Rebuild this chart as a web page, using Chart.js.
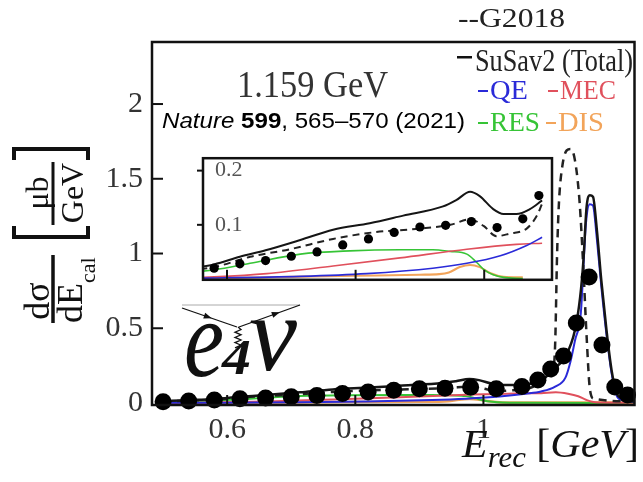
<!DOCTYPE html>
<html>
<head>
<meta charset="utf-8">
<script src="https://cdn.jsdelivr.net/npm/chart.js@4.4.1/dist/chart.umd.min.js"></script>
<style>
  html, body { margin: 0; padding: 0; background: #fff; }
  #wrap { position: relative; width: 643px; height: 482px; }
  #main { position: absolute; left: 0; top: 0; }
  #inset { position: absolute; left: 195px; top: 133px; }
</style>
</head>
<body>
<div id="wrap">
  <canvas id="main" width="643" height="482"></canvas>
  <canvas id="inset" width="365" height="172"></canvas>
</div>
<script>
// measured cross section (black dots), E_rec in GeV
const dataE = [0.5, 0.54, 0.58, 0.62, 0.66, 0.70, 0.74, 0.78, 0.82, 0.86, 0.90, 0.94, 0.98, 1.02, 1.06,
  1.085, 1.105, 1.125, 1.145, 1.165, 1.185, 1.205, 1.225];
const dataXsec = [0.008, 0.014, 0.020, 0.028, 0.034, 0.042, 0.050, 0.063, 0.074, 0.086, 0.096, 0.099, 0.106, 0.095, 0.111,
  0.154, 0.227, 0.314, 0.535, 0.843, 0.388, 0.107, 0.054];

// SuSav2 total (solid black)
const susavE = [0.5, 0.54, 0.58, 0.62, 0.66, 0.714, 0.765, 0.822, 0.874, 0.936, 0.957, 0.978, 0.993, 1.014, 1.03, 1.05,
  1.071, 1.09, 1.107, 1.128, 1.143, 1.151, 1.156, 1.161, 1.166, 1.171, 1.177, 1.184, 1.192, 1.2, 1.208, 1.216, 1.236];
const susavTotal = [0.012, 0.019, 0.027, 0.041, 0.053, 0.072, 0.091, 0.103, 0.117, 0.134, 0.146, 0.161, 0.153, 0.129, 0.12, 0.12,
  0.129, 0.145, 0.22, 0.31, 0.49, 0.71, 0.95, 1.31, 1.39, 1.38, 1.16, 0.82, 0.49, 0.22, 0.065, 0.03, 0.01];

// G2018 (dashed black)
const g2018E = [0.5, 0.54, 0.58, 0.636, 0.698, 0.765, 0.827, 0.9, 0.947, 0.978, 0.999, 1.019, 1.04, 1.066, 1.082, 1.09,
  1.1, 1.108, 1.112, 1.115, 1.118, 1.123, 1.13, 1.136, 1.143, 1.15, 1.156, 1.161, 1.166, 1.172, 1.236];
const g2018 = [0.01, 0.016, 0.022, 0.041, 0.055, 0.074, 0.086, 0.093, 0.1, 0.11, 0.098, 0.079, 0.084, 0.093, 0.117, 0.139,
  0.16, 0.2, 0.4, 1.0, 1.35, 1.58, 1.69, 1.70, 1.62, 1.35, 0.9, 0.45, 0.1, 0.03, 0.01];

// SuSav2 components
const qeE = [0.5, 0.58, 0.714, 0.817, 0.92, 0.973, 1.025, 1.066, 1.09, 1.112, 1.128, 1.136, 1.143, 1.152, 1.16, 1.166,
  1.171, 1.177, 1.184, 1.192, 1.2, 1.208, 1.216, 1.236];
const qe = [0.001, 0.002, 0.005, 0.01, 0.02, 0.029, 0.043, 0.062, 0.077, 0.11, 0.17, 0.28, 0.42, 0.6, 1.2, 1.33,
  1.32, 1.1, 0.78, 0.46, 0.2, 0.05, 0.02, 0.005];
const mecE = [0.5, 0.58, 0.662, 0.765, 0.869, 0.973, 1.05, 1.09, 1.113, 1.132, 1.148, 1.16, 1.168, 1.18, 1.236];
const mec = [0.001, 0.004, 0.01, 0.024, 0.039, 0.055, 0.064, 0.066, 0.072, 0.062, 0.045, 0.022, 0.01, 0.003, 0.001];
const resE = [0.5, 0.54, 0.58, 0.636, 0.714, 0.791, 0.869, 0.92, 0.947, 0.973, 0.988, 1.0, 1.014, 1.03, 1.06, 1.236];
const res = [0.008, 0.012, 0.017, 0.029, 0.046, 0.052, 0.054, 0.054, 0.051, 0.046, 0.031, 0.017, 0.008, 0.003, 0.001, 0.0];
const disE = [0.5, 0.6, 0.7, 0.8, 0.9, 0.93, 0.945, 0.962, 0.978, 0.993, 1.009, 1.03, 1.06, 1.236];
const dis = [0.001, 0.002, 0.004, 0.006, 0.008, 0.009, 0.012, 0.022, 0.026, 0.022, 0.011, 0.004, 0.003, 0.003];

// ticks
const xTicks = [0.6, 0.8, 1];
const yTicks = [0, 0.5, 1, 1.5, 2];
const insetYTicks = [0.1, 0.2];
const insetLastE = 1.09; // the inset curves stop here

const colors = { qe: '#2a2ad8', mec: '#e0505c', res: '#36c436', dis: '#f2a45a' };
const serif = '"Liberation Serif", "Times New Roman", serif';
const sans = '"Liberation Sans", Arial, sans-serif';

function pts(xs, ys, maxX) {
  return xs.map((x, i) => ({ x: x, y: ys[i] })).filter(p => maxX === undefined || p.x <= maxX);
}

// draw a row of text runs, squeezed/stretched to a given width
function drawRuns(ctx, runs, x, y, width, color) {
  ctx.save();
  let total = 0;
  runs.forEach(r => { ctx.font = r.font; r.w = ctx.measureText(r.t).width; total += r.w; });
  ctx.translate(x, y);
  ctx.scale(width / total, 1);
  ctx.fillStyle = color || '#111';
  ctx.textAlign = 'left';
  ctx.textBaseline = 'alphabetic';
  let cx = 0;
  runs.forEach(r => { ctx.font = r.font; ctx.fillText(r.t, cx, r.dy || 0); cx += r.w; });
  ctx.restore();
}

function seg(ctx, x1, y1, x2, y2) {
  ctx.beginPath(); ctx.moveTo(x1, y1); ctx.lineTo(x2, y2); ctx.stroke();
}

function arrowHead(ctx, x, y, ang) {
  ctx.save();
  ctx.translate(x, y); ctx.rotate(ang);
  ctx.beginPath(); ctx.moveTo(4, 0); ctx.lineTo(-4, -3); ctx.lineTo(-4, 3); ctx.closePath(); ctx.fill();
  ctx.restore();
}

function drawYTitle(ctx) {
  ctx.save();
  ctx.translate(53, 289);
  ctx.rotate(-Math.PI / 2);
  ctx.fillStyle = '#111'; ctx.strokeStyle = '#111';
  ctx.lineWidth = 3.5;
  seg(ctx, -34, 0, 34, 0);
  ctx.textBaseline = 'alphabetic';
  ctx.textAlign = 'center';
  ctx.font = '36px ' + serif;
  ctx.fillText('dσ', -12, -4);
  ctx.textAlign = 'left';
  ctx.font = '36px ' + serif;
  ctx.fillText('dE', -34, 29);
  const dw = ctx.measureText('dE').width;
  ctx.font = '22px ' + serif;
  ctx.fillText('cal', -34 + dw, 42);
  // bracket
  ctx.lineWidth = 4;
  ctx.beginPath(); ctx.moveTo(63, -39); ctx.lineTo(52, -39); ctx.lineTo(52, 35); ctx.lineTo(63, 35); ctx.stroke();
  ctx.beginPath(); ctx.moveTo(129, -39); ctx.lineTo(140, -39); ctx.lineTo(140, 35); ctx.lineTo(129, 35); ctx.stroke();
  ctx.lineWidth = 3;
  seg(ctx, 64, 0, 127, 0);
  ctx.textAlign = 'center';
  ctx.font = '32px ' + serif;
  ctx.fillText('μb', 96, -5);
  ctx.fillText('GeV', 96, 30);
  ctx.restore();
}

function drawLogo(ctx) {
  ctx.save();
  ctx.strokeStyle = '#aaa'; ctx.lineWidth = 1;
  seg(ctx, 182, 305, 300, 305);
  ctx.strokeStyle = '#111'; ctx.fillStyle = '#111'; ctx.lineWidth = 1.3;
  seg(ctx, 182, 308, 237, 327);
  seg(ctx, 239, 327, 300, 305);
  arrowHead(ctx, 208, 317, Math.atan2(19, 55));
  arrowHead(ctx, 276, 313.5, Math.atan2(-22, 61));
  // photon
  ctx.beginPath(); ctx.moveTo(238, 327);
  for (let i = 1; i <= 8; i++) ctx.lineTo(238 + (i % 2 ? 3 : -3), 327 + i * 2.6);
  ctx.stroke();
  drawRuns(ctx, [{ t: 'e', font: 'italic 110px ' + serif }], 184, 376, 40);
  drawRuns(ctx, [{ t: '4', font: 'italic bold 50px ' + serif }], 222, 374, 29);
  drawRuns(ctx, [{ t: 'ν', font: 'italic 108px ' + serif }], 249, 370, 48);
  ctx.restore();
}

const mainDecor = {
  id: 'mainDecor',
  afterDraw(chart) {
    const { ctx, chartArea: a, scales: { x, y } } = chart;
    ctx.save();
    ctx.strokeStyle = '#111';
    ctx.lineWidth = 2.5;
    ctx.strokeRect(a.left, a.top, a.right - a.left, a.bottom - a.top);
    ctx.lineWidth = 2;
    yTicks.filter(v => v > 0).forEach(v => {
      const py = y.getPixelForValue(v);
      seg(ctx, a.left, py, a.left + 11, py);
    });
    xTicks.forEach(v => {
      const px = x.getPixelForValue(v);
      seg(ctx, px, a.bottom, px, a.bottom - 10);
    });

    // legend
    drawRuns(ctx, [{ t: '--G2018', font: '27px ' + serif }], 458, 27, 107, '#222');
    ctx.fillStyle = '#111';
    ctx.fillRect(457, 56, 15, 2.5);
    drawRuns(ctx, [{ t: 'SuSav2 (Total)', font: '31px ' + serif }], 475, 71, 158, '#222');
    const entries = [
      ['QE', colors.qe, 478, 99, 38],
      ['MEC', colors.mec, 548, 99, 56],
      ['RES', colors.res, 478, 131, 50],
      ['DIS', colors.dis, 546, 131, 46]
    ];
    entries.forEach(([t, c, ex, ey, w]) => {
      ctx.fillStyle = c;
      ctx.fillRect(ex, ey - 9, 10, 2);
      drawRuns(ctx, [{ t: t, font: '27px ' + serif }], ex + 12, ey, w, c);
    });

    drawRuns(ctx, [{ t: '1.159 GeV', font: '37px ' + serif }], 237, 97, 151, '#333');
    drawRuns(ctx, [
      { t: 'Nature', font: 'italic 22px ' + sans },
      { t: ' 599', font: 'bold 22px ' + sans },
      { t: ', 565–570 (2021)', font: '22px ' + sans }
    ], 162, 128, 303, '#000');

    // axis titles
    drawRuns(ctx, [
      { t: 'E', font: 'italic 41px ' + serif },
      { t: 'rec', font: 'italic 30px ' + serif, dy: 10 },
      { t: ' [', font: '41px ' + serif },
      { t: 'GeV', font: 'italic 41px ' + serif },
      { t: ']', font: '41px ' + serif }
    ], 462, 457, 177, '#111');
    drawYTitle(ctx);
    drawLogo(ctx);
    ctx.restore();
  }
};

const insetDecor = {
  id: 'insetDecor',
  beforeDraw(chart) {
    const { ctx, chartArea: a } = chart;
    ctx.save();
    ctx.fillStyle = '#fff';
    ctx.fillRect(a.left, a.top, a.right - a.left, a.bottom - a.top);
    ctx.restore();
  },
  afterDraw(chart) {
    const { ctx, chartArea: a, scales: { x, y } } = chart;
    ctx.save();
    ctx.strokeStyle = '#111';
    ctx.lineWidth = 2.5;
    ctx.strokeRect(a.left, a.top, a.right - a.left, a.bottom - a.top);
    ctx.lineWidth = 2;
    insetYTicks.forEach(v => {
      const py = y.getPixelForValue(v);
      seg(ctx, a.left - 6, py, a.left, py);
    });
    xTicks.forEach(v => {
      const px = x.getPixelForValue(v);
      seg(ctx, px, a.bottom, px, a.bottom - 10);
    });
    ctx.restore();
  }
};

function datasets(dotR, thick, thin, dash, maxX, dotClip) {
  const line = (label, xs, ys, color, width, extra) => Object.assign({
    label: label, data: pts(xs, ys, maxX), borderColor: color, borderWidth: width,
    pointRadius: 0, fill: false, cubicInterpolationMode: 'monotone'
  }, extra || {});
  return [
    { label: 'data', data: pts(dataE, dataXsec, maxX), showLine: false, pointRadius: dotR,
      pointBackgroundColor: '#000', pointBorderWidth: 0, borderColor: '#000', clip: dotClip },
    line('SuSav2 (Total)', susavE, susavTotal, '#151515', thick),
    line('G2018', g2018E, g2018, '#222', thick, { borderDash: dash }),
    line('QE', qeE, qe, colors.qe, thin),
    line('MEC', mecE, mec, colors.mec, thin),
    line('RES', resE, res, colors.res, thin),
    line('DIS', disE, dis, colors.dis, thin + 0.5)
  ];
}

const tickFont = { family: serif, size: 30 };

new Chart(document.getElementById('main'), {
  type: 'line',
  data: { datasets: datasets(8.5, 2.5, 2, [8, 6], undefined, 9) },
  options: {
    responsive: false,
    animation: false,
    layout: { padding: { left: 0, top: 42, right: 3, bottom: 0 } },
    plugins: { legend: { display: false }, tooltip: { enabled: false } },
    scales: {
      x: {
        type: 'linear', min: 0.4827, max: 1.2358,
        afterBuildTicks: s => { s.ticks = xTicks.map(v => ({ value: v })); },
        afterFit: s => { s.height = 77; },
        grid: { display: false, drawTicks: false },
        border: { display: false },
        ticks: { font: tickFont, color: '#333', padding: 7, maxRotation: 0, autoSkip: false, callback: v => String(v) }
      },
      y: {
        type: 'linear', min: -0.0134, max: 2.415,
        afterBuildTicks: s => { s.ticks = yTicks.map(v => ({ value: v })); },
        afterFit: s => { s.width = 152; },
        grid: { display: false, drawTicks: false },
        border: { display: false },
        ticks: { font: tickFont, color: '#333', padding: 9, autoSkip: false, callback: v => String(v) }
      }
    }
  },
  plugins: [mainDecor]
});

new Chart(document.getElementById('inset'), {
  type: 'line',
  data: { datasets: datasets(4.6, 2, 1.6, [7, 5], insetLastE, 0) },
  options: {
    responsive: false,
    animation: false,
    layout: { padding: { left: 0, top: 8, right: 8, bottom: 7 } },
    plugins: { legend: { display: false }, tooltip: { enabled: false } },
    scales: {
      x: { type: 'linear', display: false, min: 0.5627, max: 1.1054 },
      y: {
        type: 'linear', min: -0.0014, max: 0.2229,
        afterBuildTicks: s => { s.ticks = insetYTicks.map(v => ({ value: v })); },
        afterFit: s => { s.width = 8; },
        grid: { display: false, drawTicks: false },
        border: { display: false },
        ticks: { mirror: true, padding: 12, font: { family: serif, size: 22 }, color: '#555', callback: v => String(v) }
      }
    }
  },
  plugins: [insetDecor]
});
</script>
</body>
</html>
